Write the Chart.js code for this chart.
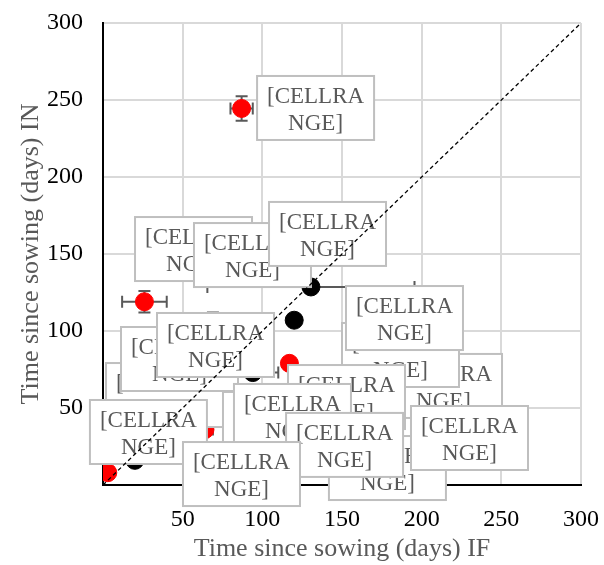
<!DOCTYPE html>
<html>
<head>
<meta charset="utf-8">
<script src="https://cdn.jsdelivr.net/npm/chart.js@4.4.0/dist/chart.umd.min.js"></script>
<style>
  body { margin: 0; background: #fff; }
  #wrap { width: 604px; height: 565px; }
</style>
</head>
<body>
<div id="wrap"><canvas id="chart" width="604" height="565"></canvas></div>
<script>
// points (days IF, days IN)
const blackX = [130.5, 120, 94, 76.5, 20, 69];
const blackY = [128.6, 107, 73, 47, 16, 95];
const blackXErr = [65, 0, 16, 0, 0, 0];
const blackYErr = [0, 0, 0, 0, 0, 17];

const redX = [87, 26, 117, 3, 64];
const redY = [244.5, 119, 79, 8, 36];
const redXErr = [7, 14, 0, 0, 5];
const redYErr = [8, 7, 0, 0, 0];

// data label anchors (top-left corner, in data units), drawn back to front
const labelX = [96.7, 20.1, 57.1, 104.2, 1.9, 11.3, 33.9, 177.0, 150.0, 152.5, 116.1, 75.3, 82.2, 141.8, 193.3, 114.9, -8.2, 50.2];
const labelY = [265.6, 174.0, 170.1, 183.8, 79.2, 102.6, 111.7, 85.1, 105.2, 129.2, 77.9, 60.4, 65.6, 31.8, 51.3, 46.8, 55.2, 27.9];
const labelLines = ["[CELLRA", "NGE]"];

const diagX = [0, 300];
const diagY = [0, 300];

const ticks = [50, 100, 150, 200, 250, 300];

function pts(xs, ys) {
    return xs.map((x, i) => ({ x: x, y: ys[i] }));
}

// error bars under the markers
const errorBars = {
    id: "errorBars",
    beforeDatasetsDraw(chart) {
        const ctx = chart.ctx;
        const xs = chart.scales.x, ys = chart.scales.y;
        const sets = [
            [blackX, blackY, blackXErr, blackYErr],
            [redX, redY, redXErr, redYErr]
        ];
        ctx.save();
        ctx.strokeStyle = "#595959";
        ctx.lineWidth = 2;
        sets.forEach(s => {
            s[0].forEach((x, i) => {
                const px = xs.getPixelForValue(x), py = ys.getPixelForValue(s[1][i]);
                const ex = s[2][i], ey = s[3][i];
                ctx.beginPath();
                if (ex) {
                    const l = xs.getPixelForValue(x - ex), r = xs.getPixelForValue(x + ex);
                    ctx.moveTo(l, py); ctx.lineTo(r, py);
                    ctx.moveTo(l, py - 6); ctx.lineTo(l, py + 6);
                    ctx.moveTo(r, py - 6); ctx.lineTo(r, py + 6);
                }
                if (ey) {
                    const t = ys.getPixelForValue(s[1][i] + ey), b = ys.getPixelForValue(s[1][i] - ey);
                    ctx.moveTo(px, t); ctx.lineTo(px, b);
                    ctx.moveTo(px - 6, t); ctx.lineTo(px + 6, t);
                    ctx.moveTo(px - 6, b); ctx.lineTo(px + 6, b);
                }
                ctx.stroke();
            });
        });
        ctx.restore();
    }
};

// data label boxes, drawn just before the dashed 1:1 line
const cellLabels = {
    id: "cellLabels",
    beforeDatasetDraw(chart, args) {
        if (args.index !== 2) return;
        const ctx = chart.ctx;
        const xs = chart.scales.x, ys = chart.scales.y;
        ctx.save();
        ctx.font = "23px 'Liberation Serif', 'Times New Roman', serif";
        ctx.textAlign = "center";
        ctx.textBaseline = "middle";
        labelX.forEach((x, i) => {
            const l = xs.getPixelForValue(x), t = ys.getPixelForValue(labelY[i]);
            ctx.fillStyle = "#ffffff";
            ctx.fillRect(l, t, 117, 64);
            ctx.strokeStyle = "#bfbfbf";
            ctx.lineWidth = 2;
            ctx.strokeRect(l, t, 117, 64);
            ctx.fillStyle = "#595959";
            ctx.fillText(labelLines[0], l + 58.5, t + 21);
            ctx.fillText(labelLines[1], l + 58.5, t + 48);
        });
        ctx.restore();
    }
};

new Chart(document.getElementById("chart"), {
    type: "scatter",
    data: {
        datasets: [
            {
                label: "IF-IN",
                data: pts(blackX, blackY),
                backgroundColor: "#000000",
                borderColor: "#000000",
                pointRadius: 9,
                order: 2
            },
            {
                label: "IF-IN red",
                data: pts(redX, redY),
                backgroundColor: "#ff0000",
                borderColor: "#ff0000",
                pointRadius: 9,
                order: 1
            },
            {
                type: "line",
                label: "1:1",
                data: pts(diagX, diagY),
                borderColor: "#000000",
                borderWidth: 1.3,
                borderDash: [4, 3],
                pointRadius: 0,
                fill: false,
                order: 0
            }
        ]
    },
    options: {
        responsive: false,
        animation: false,
        layout: { padding: { left: 0, right: 23, top: 23, bottom: 0 } },
        plugins: {
            legend: { display: false },
            tooltip: { enabled: false }
        },
        scales: {
            x: {
                type: "linear",
                min: 0,
                max: 300,
                afterBuildTicks: s => { s.ticks = [0].concat(ticks).map(v => ({ value: v })); },
                afterFit: s => { s.height = 80; s.paddingLeft = 0; s.paddingRight = 0; },
                grid: { color: "#d9d9d9", lineWidth: 2, drawTicks: false },
                border: { color: "#000000", width: 2 },
                ticks: {
                    color: "#000000",
                    padding: 20,
                    font: { family: "'Liberation Serif', serif", size: 24 },
                    callback: v => (v === 0 ? "" : v)
                },
                title: {
                    display: true,
                    text: "Time since sowing (days) IF",
                    color: "#595959",
                    font: { family: "'Liberation Serif', serif", size: 26 },
                    padding: { top: 0, bottom: 0 }
                }
            },
            y: {
                type: "linear",
                min: 0,
                max: 300,
                afterBuildTicks: s => { s.ticks = [0].concat(ticks).map(v => ({ value: v })); },
                afterFit: s => { s.width = 103; s.paddingTop = 0; s.paddingBottom = 0; },
                grid: { color: "#d9d9d9", lineWidth: 2, drawTicks: false },
                border: { color: "#000000", width: 2 },
                ticks: {
                    color: "#000000",
                    padding: 20,
                    font: { family: "'Liberation Serif', serif", size: 24 },
                    callback: v => (v === 0 ? "" : v)
                },
                title: {
                    display: true,
                    text: "Time since sowing (days) IN",
                    color: "#595959",
                    font: { family: "'Liberation Serif', serif", size: 26 },
                    padding: { top: 16, bottom: 0 }
                }
            }
        }
    },
    plugins: [errorBars, cellLabels]
});
</script>
</body>
</html>
